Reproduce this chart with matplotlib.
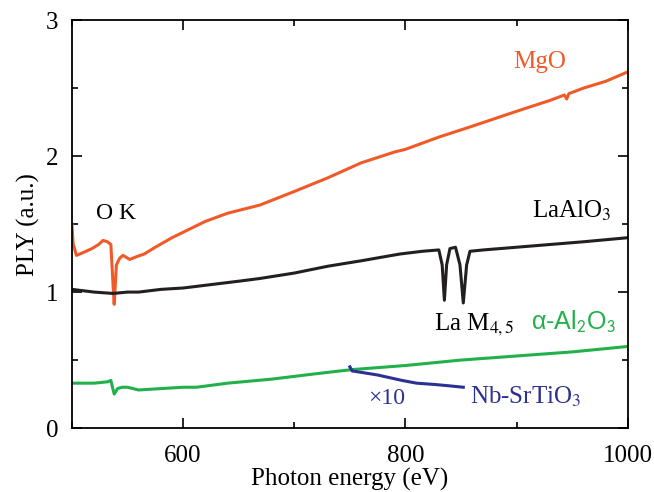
import matplotlib.pyplot as plt
from matplotlib.ticker import MultipleLocator

plt.rcParams['font.family'] = ['Liberation Serif', 'DejaVu Serif']
plt.rcParams['mathtext.fontset'] = 'stix'

# MgO
mgo_e = [500, 501, 504, 510, 518, 524, 528, 532, 535, 537, 538, 540, 543, 546, 552, 558,
         565, 575, 590, 600, 620, 640, 669, 700, 730, 760, 790, 800, 830, 860, 900,
         930, 943, 945, 947, 960, 980, 1000]
mgo_y = [1.50, 1.36, 1.27, 1.29, 1.32, 1.35, 1.38, 1.37, 1.35, 1.05, 0.91, 1.20, 1.25,
         1.27, 1.24, 1.26, 1.28, 1.33, 1.40, 1.44, 1.52, 1.58, 1.64, 1.74, 1.84,
         1.95, 2.03, 2.05, 2.14, 2.22, 2.33, 2.41, 2.45, 2.42, 2.46, 2.50, 2.55, 2.62]

# LaAlO3
la_e = [500, 510, 520, 537, 550, 560, 580, 600, 620, 650, 669, 700, 730, 760, 795,
        815, 830, 833, 835, 837, 840, 845, 849, 852, 855, 858, 870, 900, 930, 960, 1000]
la_y = [1.02, 1.01, 1.00, 0.99, 1.00, 1.00, 1.02, 1.03, 1.05, 1.08, 1.10, 1.14, 1.19,
        1.23, 1.28, 1.30, 1.31, 1.20, 0.94, 1.20, 1.32, 1.33, 1.20, 0.92, 1.20, 1.30,
        1.31, 1.33, 1.35, 1.37, 1.40]

# alpha-Al2O3
al_e = [500, 520, 532, 535, 538, 541, 545, 550, 560, 580, 600, 612, 640, 680, 720,
        752, 800, 850, 900, 950, 1000]
al_y = [0.33, 0.33, 0.34, 0.35, 0.25, 0.29, 0.30, 0.30, 0.28, 0.29, 0.30, 0.30, 0.33,
        0.36, 0.40, 0.43, 0.46, 0.50, 0.53, 0.56, 0.60]

# Nb-SrTiO3 (x10)
nb_e = [750, 752, 760, 775, 797, 810, 827, 840, 852]
nb_y = [0.45, 0.42, 0.41, 0.39, 0.35, 0.33, 0.32, 0.31, 0.30]

fig = plt.figure(figsize=(6.54, 4.92), dpi=100)
ax = fig.add_axes([0.110, 0.130, 0.850, 0.829])

ax.plot(mgo_e, mgo_y, color='#f05a28', lw=2.2)
ax.plot(la_e, la_y, color='#231f20', lw=2.2)
ax.plot(al_e, al_y, color='#22b04a', lw=2.2)
ax.plot(nb_e, nb_y, color='#2b3192', lw=2.2)

ax.set_xlim(500, 1000)
ax.set_ylim(0, 3)
ax.xaxis.set_major_locator(MultipleLocator(200))
ax.xaxis.set_minor_locator(MultipleLocator(100))
ax.yaxis.set_major_locator(MultipleLocator(1))
ax.yaxis.set_minor_locator(MultipleLocator(0.5))
ax.tick_params(which='both', direction='in', top=True, right=True, width=1.2,
               labelsize=18)
ax.tick_params(axis='x', pad=12)
ax.tick_params(axis='y', pad=10)
ax.tick_params(which='major', length=7)
ax.tick_params(which='minor', length=4)
for s in ax.spines.values():
    s.set_linewidth(1.3)

ax.set_xlabel('Photon energy (eV)', fontsize=18, labelpad=1)
ax.set_ylabel('PLY (a.u.)', fontsize=18, labelpad=4)

ax.text(897, 2.65, 'MgO', color='#f05a28', fontsize=18, va='baseline')
ax.text(522, 1.54, 'O K', fontsize=17, va='baseline')
ax.text(914, 1.545, 'LaAlO$_3$', fontsize=18, va='baseline')
ax.text(826, 0.72, 'La M$_{4,5}$', fontsize=18, va='baseline')
ax.text(913, 0.72, 'α-Al$_\\mathsf{2}$O$_\\mathsf{3}$', color='#22b04a', fontsize=18,
        va='baseline', family='Liberation Sans')
ax.text(766, 0.18, '×10', color='#2b3192', fontsize=17, va='baseline')
ax.text(858, 0.18, 'Nb-SrTiO$_3$', color='#2b3192', fontsize=18, va='baseline')

fig.savefig('out.png', dpi=100)
